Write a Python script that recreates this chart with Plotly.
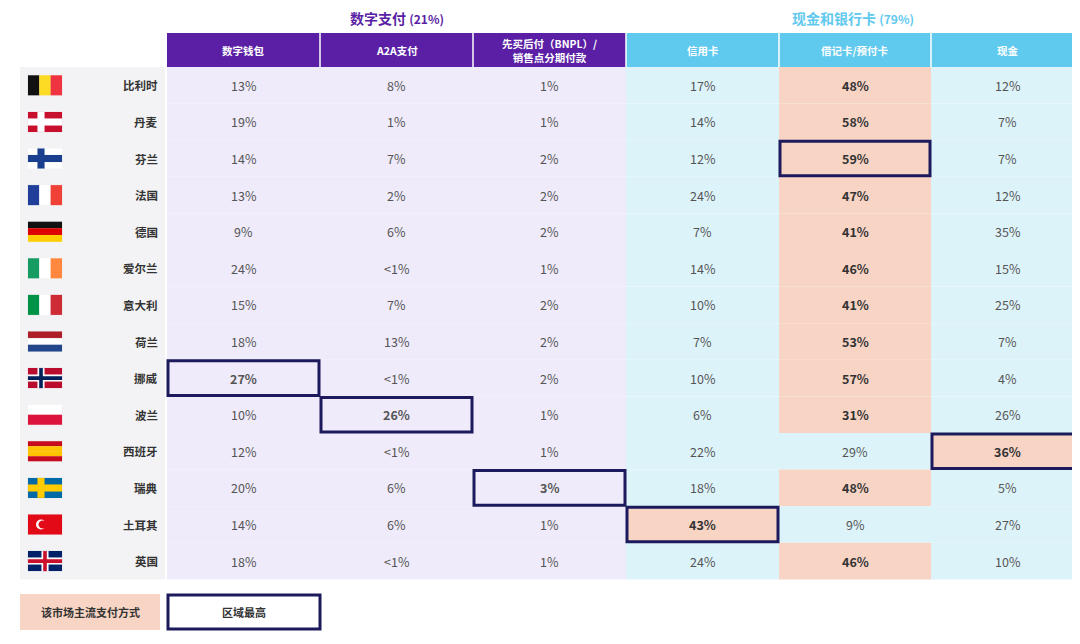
import plotly.graph_objects as go

countries = ["比利时", "丹麦", "芬兰", "法国", "德国", "爱尔兰", "意大利", "荷兰",
             "挪威", "波兰", "西班牙", "瑞典", "土耳其", "英国"]
columns = ["数字钱包", "A2A支付", "先买后付（BNPL）/<br>销售点分期付款", "信用卡", "借记卡/预付卡", "现金"]
wallet = ["13%", "19%", "14%", "13%", "9%", "24%", "15%", "18%", "27%", "10%", "12%", "20%", "14%", "18%"]
a2a = ["8%", "1%", "7%", "2%", "6%", "<1%", "7%", "13%", "<1%", "26%", "<1%", "6%", "6%", "<1%"]
bnpl = ["1%", "1%", "2%", "2%", "2%", "1%", "2%", "2%", "2%", "1%", "1%", "3%", "1%", "1%"]
credit = ["17%", "14%", "12%", "24%", "7%", "14%", "10%", "7%", "10%", "6%", "22%", "18%", "43%", "24%"]
debit = ["48%", "58%", "59%", "47%", "41%", "46%", "41%", "53%", "57%", "31%", "29%", "48%", "9%", "46%"]
cash = ["12%", "7%", "7%", "12%", "35%", "15%", "25%", "7%", "4%", "26%", "36%", "5%", "27%", "10%"]
values = [wallet, a2a, bnpl, credit, debit, cash]
# dominant method per market: (row, col)
dominant = [(r, 4) for r in range(14) if r not in (10, 12)] + [(10, 5), (12, 3)]
# regional highest: (row, col)
highest = [(2, 4), (8, 0), (9, 1), (11, 2), (12, 3), (10, 5)]

PURPLE = "#5a1fa5"
CYAN = "#5fc9ee"
LAV = "#efebfa"
LBLUE = "#ddf3fa"
PEACH = "#f8d4c4"
NAVY = "#1c1a5c"
FONT = "Noto Sans CJK SC"

col_x = [167, 320, 473, 626, 779, 931, 1092]
y0, rh = 67, 36.6
hy0, hy1 = 33, 67

fig = go.Figure()
fig.add_trace(go.Scatter(x=[0], y=[0], mode="markers", marker=dict(opacity=0), showlegend=False, hoverinfo="skip"))
shapes, ann = [], []

def rect(x0, y0_, x1, y1, fill, line=None, lw=0):
    shapes.append(dict(type="rect", x0=x0, x1=x1, y0=y0_, y1=y1, fillcolor=fill,
                       line=dict(color=line or fill, width=lw), layer="below" if lw == 0 else "above"))

def text(x, y, s, size=12, color="#444", bold=False, xanchor="center"):
    ann.append(dict(x=x, y=y, text=f"<b>{s}</b>" if bold else s, showarrow=False, xanchor=xanchor,
                    font=dict(size=size, color=color, family=FONT)))

# group titles
text((col_x[0] + col_x[3]) / 2, 18, "数字支付 <span style='font-size:12px'>(21%)</span>", 14, PURPLE, True)
text(853, 18, "现金和银行卡 <span style='font-size:12px'>(79%)</span>", 14, CYAN, True)

# headers
for c, name in enumerate(columns):
    rect(col_x[c], hy0, col_x[c + 1], hy1, PURPLE if c < 3 else CYAN)
    text((col_x[c] + min(col_x[c + 1], 1084)) / 2, (hy0 + hy1) / 2, name, 10.5, "white", True)
for c in range(1, 6):
    shapes.append(dict(type="line", x0=col_x[c], x1=col_x[c], y0=hy0, y1=y0 + rh * 14,
                       line=dict(color="white", width=1.5), layer="below"))

# country label background
rect(20, y0, 165, y0 + rh * 14, "#f3f3f5")

flags = {
    "比利时": ("v", ["#111", "#fdda24", "#ef3340"]),
    "丹麦": ("n", ["#c8102e", "white", None]),
    "芬兰": ("n", ["white", "#1a3f8f", None]),
    "法国": ("v", ["#1f3f9a", "white", "#ef4135"]),
    "德国": ("h", ["#111", "#dd0000", "#ffce00"]),
    "爱尔兰": ("v", ["#169b62", "white", "#ff883e"]),
    "意大利": ("v", ["#009246", "white", "#ce2b37"]),
    "荷兰": ("h", ["#ae1c28", "white", "#21468b"]),
    "挪威": ("n", ["#ba0c2f", "white", "#00205b"]),
    "波兰": ("h", ["white", "#dc143c"]),
    "西班牙": ("h", ["#c60b1e", "#ffc400", "#ffc400", "#c60b1e"]),
    "瑞典": ("n", ["#006aa7", "#fecc00", None]),
    "土耳其": ("t", ["#e30a17"]),
    "英国": ("n", ["#012169", "white", "#c8102e"]),
}

for r, name in enumerate(countries):
    ya, yb = y0 + r * rh, y0 + (r + 1) * rh
    yc = (ya + yb) / 2
    text(160, yc, name, 11.5, "#333", True, "right")
    kind, cols = flags[name]
    fx0, fx1, fy0, fy1 = 28, 62, yc - 10, yc + 10
    if kind == "v":
        w = (fx1 - fx0) / len(cols)
        for i, cc in enumerate(cols):
            rect(fx0 + i * w, fy0, fx0 + (i + 1) * w, fy1, cc, cc, 0.1)
    elif kind == "h":
        h = (fy1 - fy0) / len(cols)
        for i, cc in enumerate(cols):
            rect(fx0, fy0 + i * h, fx1, fy0 + (i + 1) * h, cc, "#ddd" if cc == "white" else cc, 0.1)
    elif kind == "t":
        rect(fx0, fy0, fx1, fy1, cols[0], cols[0], 0.1)
        shapes.append(dict(type="circle", x0=36, x1=46, y0=yc - 5, y1=yc + 5, fillcolor="white", line=dict(width=0)))
        shapes.append(dict(type="circle", x0=38.5, x1=47, y0=yc - 4, y1=yc + 4, fillcolor=cols[0], line=dict(width=0)))
    else:
        rect(fx0, fy0, fx1, fy1, cols[0], cols[0], 0.1)
        cx = 41 if name != "英国" else 45
        rect(cx - 3.5, fy0, cx + 3.5, fy1, cols[1], cols[1], 0.1)
        rect(fx0, yc - 3.5, fx1, yc + 3.5, cols[1], cols[1], 0.1)
        if cols[2]:
            rect(cx - 1.8, fy0, cx + 1.8, fy1, cols[2], cols[2], 0.1)
            rect(fx0, yc - 1.8, fx1, yc + 1.8, cols[2], cols[2], 0.1)

    for c in range(6):
        dom = (r, c) in dominant
        fill = PEACH if dom else (LAV if c < 3 else LBLUE)
        rect(col_x[c], ya, col_x[c + 1], yb, fill)
        text((col_x[c] + min(col_x[c + 1], 1084)) / 2, yc, values[c][r], 12.5, "#333" if dom else "#555",
             dom or (r, c) in highest)

for r, c in highest:
    shapes.append(dict(type="rect", x0=col_x[c] + 1, x1=col_x[c + 1] - 1,
                       y0=y0 + r * rh + 1, y1=y0 + (r + 1) * rh - 1,
                       line=dict(color=NAVY, width=3), layer="above"))

# legend
rect(20, 594, 160, 630, PEACH)
text(90, 612, "该市场主流支付方式", 11, "#333", True)
shapes.append(dict(type="rect", x0=168, x1=320, y0=595, y1=629, line=dict(color=NAVY, width=3), fillcolor="white"))
text(244, 612, "区域最高", 11, "#333", True)

# page body adds an 8px offset; shift the axis window to compensate
fig.update_layout(
    width=1080, height=644, margin=dict(l=0, r=0, t=0, b=0),
    plot_bgcolor="white", paper_bgcolor="white",
    xaxis=dict(range=[8, 1088], visible=False, fixedrange=True),
    yaxis=dict(range=[652, 8], visible=False, fixedrange=True),
    shapes=shapes, annotations=ann, showlegend=False,
)
fig.write_html("out.html")
